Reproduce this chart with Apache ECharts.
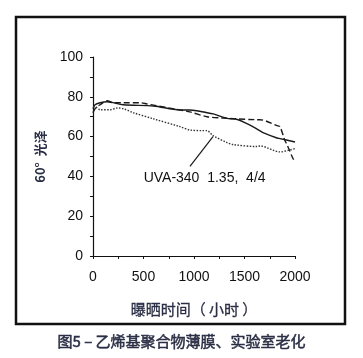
<!DOCTYPE html>
<html><head><meta charset="utf-8">
<script src="https://cdn.jsdelivr.net/npm/echarts@6/dist/echarts.min.js"></script>
<style>html,body{margin:0;padding:0;background:#fff}#c{width:363px;height:358px}</style>
</head><body><div id="c"></div>
<script>
const xTicks = [0, 500, 1000, 1500, 2000];
const yTicks = [0, 20, 40, 60, 80, 100];
const solidHours  = [0, 20, 70, 140, 300, 600, 860, 960, 1130, 1190, 1360, 1390, 1535, 1650, 1683, 1822, 1851, 2000];
const solidValues = [74, 76, 77, 77.5, 76, 75.4, 73.4, 73.4, 72, 71.4, 69, 69, 66.3, 63, 62, 59.3, 59, 57.3];
const dashHours   = [0, 20, 70, 140, 200, 300, 465, 535, 860, 960, 1130, 1290, 1390, 1624, 1653, 1822, 1851, 1900, 1921, 1980, 2000];
const dashValues  = [72, 74, 76, 78, 77, 77, 77, 76.4, 73.4, 72.4, 70, 69.3, 69, 68.5, 68.5, 65.5, 65, 58, 56, 49, 47.5];
const dotHours    = [0, 20, 70, 170, 240, 300, 400, 594, 861, 960, 1089, 1129, 1188, 1327, 1386, 1624, 1653, 1851, 1950, 2000];
const dotValues   = [75, 75, 73.5, 73.5, 74.4, 74, 72, 69, 65, 63.3, 63, 63, 60.5, 57, 56, 55, 55.3, 52.3, 53.3, 54];
const annotationText = 'UVA-340  1.35,  4/4';
const annotationFrom = [960, 45];
const annotationTo = [1188, 60];
const annotationPos = [1105, 39];
const xName = '曝晒时间（ 小时 ）';
const yName = '60°  光泽';
const caption = '图5 – 乙烯基聚合物薄膜、实验室老化';

const zip = (a, b) => a.map((v, i) => [v, b[i]]);
const chart = echarts.init(document.getElementById('c'));
const lineColor = '#1a1a1a';
const numFont = {color: '#111', fontSize: 14, fontFamily: 'Liberation Sans, Arial'};
chart.setOption({
  animation: false,
  grid: {left: 93, right: 68, top: 57, bottom: 102},
  xAxis: {
    type: 'value', min: 0, max: 2000, interval: 500,
    axisLine: {lineStyle: {color: '#111', width: 1.2}},
    axisTick: {show: true, length: 3, lineStyle: {color: '#111'}},
    minorTick: {show: true, splitNumber: 2, length: 3, lineStyle: {color: '#111'}},
    splitLine: {show: false},
    axisLabel: Object.assign({margin: 14, formatter: v => xTicks.includes(v) ? String(v) : ''}, numFont),
    name: xName, nameLocation: 'middle', nameGap: 46,
    nameTextStyle: {color: '#2b2f45', fontSize: 15, fontFamily: 'Noto Sans CJK SC',
      textBorderColor: '#2b2f45', textBorderWidth: 0.3}
  },
  yAxis: {
    type: 'value', min: 0, max: 100, interval: 20,
    axisLine: {show: true, lineStyle: {color: '#111', width: 1.2}},
    axisTick: {show: true, length: 3, lineStyle: {color: '#111'}},
    minorTick: {show: true, splitNumber: 2, length: 3, lineStyle: {color: '#111'}},
    splitLine: {show: false},
    axisLabel: Object.assign({margin: 10, formatter: v => yTicks.includes(v) ? String(v) : ''}, numFont),
    name: yName, nameLocation: 'middle', nameGap: 46, nameRotate: 90,
    nameTextStyle: {color: '#2b2f45', fontSize: 13, fontWeight: 'bold', fontFamily: 'Noto Sans CJK SC'}
  },
  series: [
    {type: 'line', data: zip(solidHours, solidValues), symbol: 'none', smooth: 0.3,
     lineStyle: {color: lineColor, width: 1.4, type: 'solid'},
     markLine: {symbol: 'none', silent: true, label: {show: false},
       lineStyle: {color: lineColor, width: 1.2, type: 'solid'},
       data: [[{coord: annotationFrom}, {coord: annotationTo}]]}},
    {type: 'line', data: zip(dashHours, dashValues), symbol: 'none', smooth: 0.3,
     lineStyle: {color: lineColor, width: 1.4, type: [6, 3]}},
    {type: 'line', data: zip(dotHours, dotValues), symbol: 'none', smooth: 0.3,
     lineStyle: {color: '#333', width: 1.4, type: [1.5, 1.5]}}
  ],
  graphic: [
    {type: 'rect', shape: {x: 16, y: 17, width: 329, height: 307},
     style: {fill: 'none', stroke: '#111', lineWidth: 2.5}, z: -1},
    {type: 'text', left: 'center', top: 334,
     style: {text: caption, fill: '#2b2f45', fontSize: 15, fontWeight: 'normal', fontFamily: 'Noto Sans CJK SC',
       stroke: '#2b2f45', lineWidth: 0.5}}
  ]
});
const p = chart.convertToPixel({gridIndex: 0}, annotationPos);
chart.setOption({graphic: [{}, {}, {type: 'text', x: p[0], y: p[1], style: {text: annotationText, fill: '#111', font: '14px "Liberation Sans", Arial', align: 'center', verticalAlign: 'middle'}}]});
</script></body></html>
